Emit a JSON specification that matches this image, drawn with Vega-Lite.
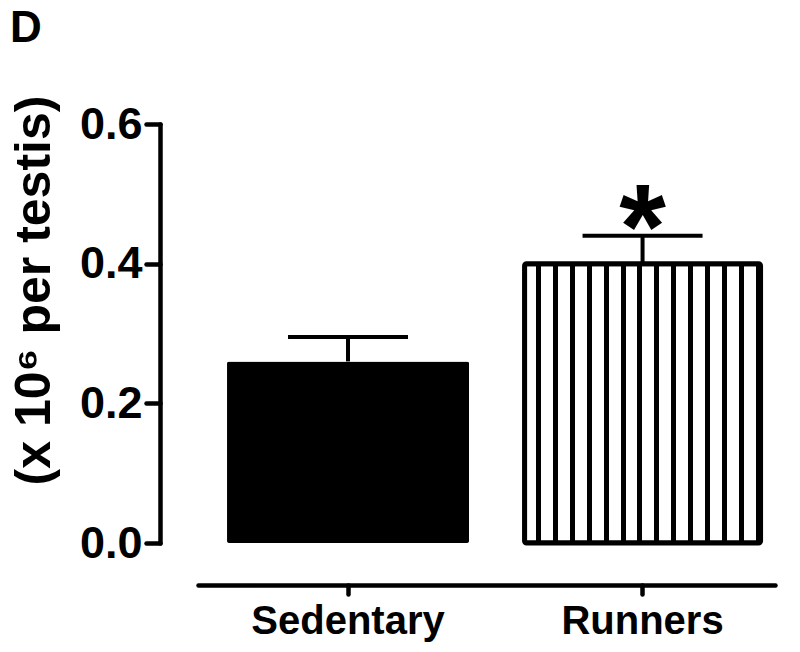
{
  "$schema": "https://vega.github.io/schema/vega-lite/v6.json",
  "width": 577,
  "height": 419,
  "autosize": {"type": "none"},
  "padding": {"left": 198, "top": 124, "right": 25, "bottom": 109},
  "background": "white",
  "title": {
    "text": "D",
    "anchor": "start",
    "frame": "group",
    "dx": -188,
    "offset": 9,
    "baseline": "alphabetic",
    "font": "Liberation Sans",
    "fontSize": 44,
    "fontWeight": "bold",
    "color": "black"
  },
  "data": {
    "values": [
      {"group": "Sedentary", "mean": 0.26, "upper": 0.295, "sig": ""},
      {"group": "Runners", "mean": 0.40, "upper": 0.44, "sig": "*"}
    ]
  },
  "encoding": {
    "x": {
      "field": "group",
      "type": "nominal",
      "sort": ["Sedentary", "Runners"],
      "scale": {"paddingInner": 0.5, "paddingOuter": 0.2295, "align": 0.565},
      "axis": {
        "title": null,
        "labelAngle": 0,
        "offset": 42,
        "domainColor": "black",
        "domainWidth": 4.5,
        "domainCap": "round",
        "tickColor": "black",
        "tickWidth": 4.5,
        "tickCap": "round",
        "tickSize": 9,
        "labelFont": "Liberation Sans",
        "labelFontSize": 40,
        "labelFontWeight": "bold",
        "labelColor": "black",
        "labelPadding": 7,
        "labelLimit": 500
      }
    }
  },
  "layer": [
    {
      "transform": [{"filter": "datum.group === 'Sedentary'"}],
      "mark": {"type": "bar", "width": 242, "fill": "black", "cornerRadius": 2},
      "encoding": {
        "y": {
          "field": "mean",
          "type": "quantitative",
          "scale": {"domain": [0, 0.6], "nice": false, "zero": true},
          "axis": {
            "title": "(x 10⁶ per testis)",
            "values": [0, 0.2, 0.4, 0.6],
            "format": ".1f",
            "offset": 38,
            "grid": false,
            "domainColor": "black",
            "domainWidth": 4.5,
            "domainCap": "round",
            "tickColor": "black",
            "tickWidth": 4.5,
            "tickCap": "round",
            "tickSize": 14,
            "labelFont": "Liberation Sans",
            "labelFontSize": 45,
            "labelFontWeight": "bold",
            "labelColor": "black",
            "labelPadding": 4,
            "labelFlush": false,
            "labelOverlap": false,
            "labelBound": false,
            "titleFont": "Liberation Sans",
            "titleFontSize": 50,
            "titleFontWeight": "bold",
            "titleColor": "black",
            "titlePadding": 20,
            "titleY": 166,
            "titleLimit": 600
          }
        }
      }
    },
    {
      "transform": [{"filter": "datum.group === 'Runners'"}],
      "mark": {
        "type": "bar",
        "width": 236,
        "stroke": "black",
        "strokeWidth": 5,
        "cornerRadius": 2,
        "fill": {
          "gradient": "linear",
          "x1": 0, "y1": 0, "x2": 1, "y2": 0,
          "stops": [
            {"offset": 0, "color": "white"},
            {"offset": 0.0487, "color": "white"}, {"offset": 0.0487, "color": "black"},
            {"offset": 0.0699, "color": "black"}, {"offset": 0.0699, "color": "white"},
            {"offset": 0.1203, "color": "white"}, {"offset": 0.1203, "color": "black"},
            {"offset": 0.1415, "color": "black"}, {"offset": 0.1415, "color": "white"},
            {"offset": 0.1919, "color": "white"}, {"offset": 0.1919, "color": "black"},
            {"offset": 0.2131, "color": "black"}, {"offset": 0.2131, "color": "white"},
            {"offset": 0.2636, "color": "white"}, {"offset": 0.2636, "color": "black"},
            {"offset": 0.2847, "color": "black"}, {"offset": 0.2847, "color": "white"},
            {"offset": 0.3352, "color": "white"}, {"offset": 0.3352, "color": "black"},
            {"offset": 0.3564, "color": "black"}, {"offset": 0.3564, "color": "white"},
            {"offset": 0.4068, "color": "white"}, {"offset": 0.4068, "color": "black"},
            {"offset": 0.4280, "color": "black"}, {"offset": 0.4280, "color": "white"},
            {"offset": 0.4784, "color": "white"}, {"offset": 0.4784, "color": "black"},
            {"offset": 0.4996, "color": "black"}, {"offset": 0.4996, "color": "white"},
            {"offset": 0.5500, "color": "white"}, {"offset": 0.5500, "color": "black"},
            {"offset": 0.5712, "color": "black"}, {"offset": 0.5712, "color": "white"},
            {"offset": 0.6216, "color": "white"}, {"offset": 0.6216, "color": "black"},
            {"offset": 0.6428, "color": "black"}, {"offset": 0.6428, "color": "white"},
            {"offset": 0.6932, "color": "white"}, {"offset": 0.6932, "color": "black"},
            {"offset": 0.7144, "color": "black"}, {"offset": 0.7144, "color": "white"},
            {"offset": 0.7648, "color": "white"}, {"offset": 0.7648, "color": "black"},
            {"offset": 0.7860, "color": "black"}, {"offset": 0.7860, "color": "white"},
            {"offset": 0.8364, "color": "white"}, {"offset": 0.8364, "color": "black"},
            {"offset": 0.8576, "color": "black"}, {"offset": 0.8576, "color": "white"},
            {"offset": 0.9081, "color": "white"}, {"offset": 0.9081, "color": "black"},
            {"offset": 0.9292, "color": "black"}, {"offset": 0.9292, "color": "white"},
            {"offset": 0.9797, "color": "white"}, {"offset": 0.9797, "color": "black"},
            {"offset": 1, "color": "black"}
          ]
        }
      },
      "encoding": {
        "y": {"field": "mean", "type": "quantitative"}
      }
    },
    {
      "mark": {"type": "rule", "color": "black", "strokeWidth": 4},
      "encoding": {
        "y": {"field": "mean", "type": "quantitative"},
        "y2": {"field": "upper"}
      }
    },
    {
      "mark": {"type": "tick", "color": "black", "size": 120, "thickness": 4, "orient": "horizontal", "opacity": 1},
      "encoding": {
        "y": {"field": "upper", "type": "quantitative"}
      }
    },
    {
      "mark": {
        "type": "text",
        "font": "Liberation Sans",
        "fontWeight": "bold",
        "fontSize": 120,
        "baseline": "alphabetic",
        "align": "center",
        "dy": 32,
        "color": "black"
      },
      "encoding": {
        "y": {"field": "upper", "type": "quantitative"},
        "text": {"field": "sig"}
      }
    }
  ],
  "config": {
    "view": {"stroke": null}
  }
}
